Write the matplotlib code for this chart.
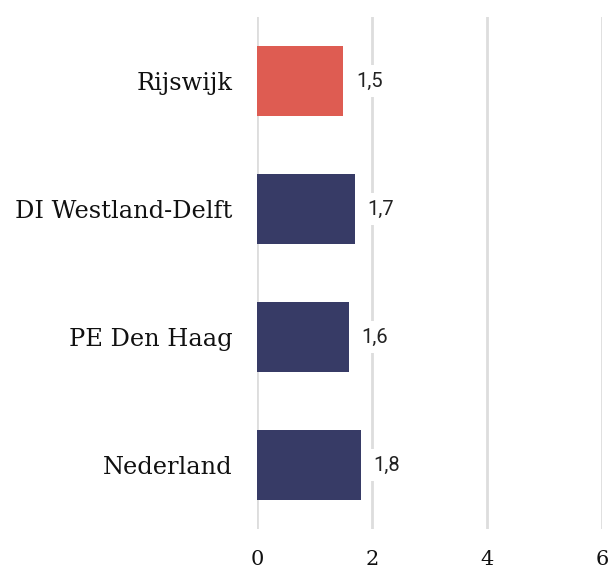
import matplotlib
matplotlib.use("Agg")
import matplotlib.pyplot as plt

categories = ["Rijswijk", "DI Westland-Delft", "PE Den Haag", "Nederland"]
values = [1.5, 1.7, 1.6, 1.8]
value_labels = ["1,5", "1,7", "1,6", "1,8"]
colors = ["#DE5C52", "#373B66", "#373B66", "#373B66"]
xticks = [0, 2, 4, 6]

fig = plt.figure(figsize=(6.11, 5.72), dpi=100)
ax = fig.add_axes([257/611, 1-529/572, (602-257)/611, (529-17)/572])

ypos = list(range(len(categories)))
ax.barh(ypos, values, height=0.55, color=colors, zorder=3)
for y, v, lab in zip(ypos, values, value_labels):
    ax.text(v + 0.22, y, lab, va="center", ha="left", fontsize=14.5,
            family="Roboto", color="#222222", zorder=4,
            bbox=dict(boxstyle="square,pad=0.3", fc="white", ec="none"))

ax.set_xlim(0, 6)
ax.set_ylim(3.5, -0.5)
ax.set_xticks(xticks)
ax.set_xticklabels([str(t) for t in xticks], family="DejaVu Serif", fontsize=15, color="#111111")
ax.set_yticks(ypos)
ax.set_yticklabels(categories, family="DejaVu Serif", fontsize=17.4, color="#111111")
ax.tick_params(axis="both", length=0)
ax.tick_params(axis="x", pad=15)
ax.tick_params(axis="y", pad=17.5)
for s in ax.spines.values():
    s.set_visible(False)
ax.grid(axis="x", color="#DDDDDD", linewidth=2, zorder=0)
ax.set_axisbelow(True)

fig.savefig("out.png", dpi=100)
